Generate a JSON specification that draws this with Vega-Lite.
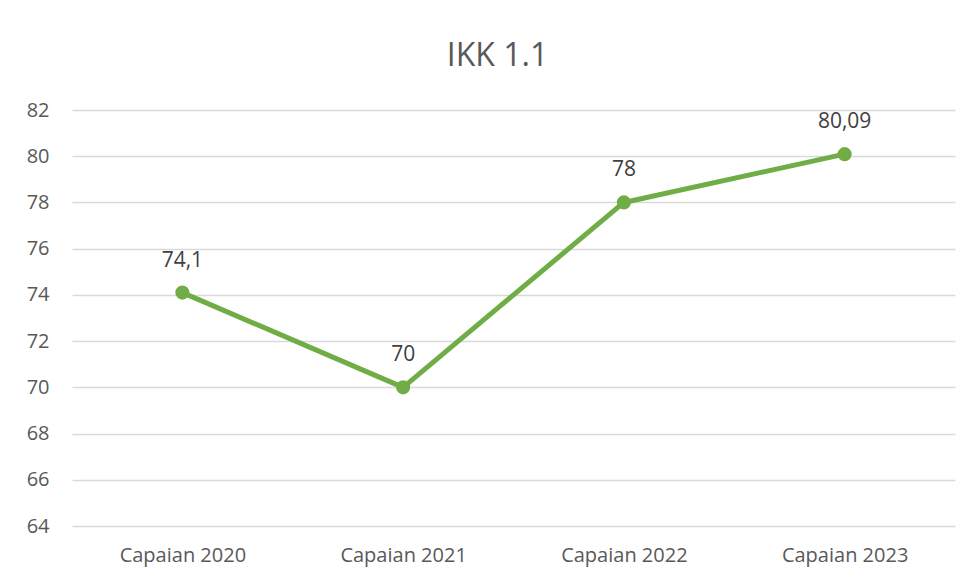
{
  "$schema": "https://vega.github.io/schema/vega-lite/v6.json",
  "width": 883,
  "height": 416,
  "autosize": {"type": "none"},
  "padding": {"left": 72, "top": 110, "right": 18, "bottom": 55},
  "background": "white",
  "title": {
    "text": "IKK 1.1",
    "fontSize": 32,
    "font": "Open Sans",
    "fontWeight": "normal",
    "color": "#595959",
    "anchor": "middle",
    "dx": -16,
    "offset": 27
  },
  "data": {
    "values": [
      {"kategori": "Capaian 2020", "nilai": 74.1, "label": "74,1"},
      {"kategori": "Capaian 2021", "nilai": 70, "label": "70"},
      {"kategori": "Capaian 2022", "nilai": 78, "label": "78"},
      {"kategori": "Capaian 2023", "nilai": 80.09, "label": "80,09"}
    ]
  },
  "encoding": {
    "x": {
      "field": "kategori",
      "type": "nominal",
      "sort": null,
      "scale": {"paddingOuter": 0.5, "paddingInner": 0},
      "axis": {
        "title": null,
        "labelAngle": 0,
        "labelFont": "Open Sans",
        "labelFontSize": 20,
        "labelColor": "#595959",
        "labelPadding": 19,
        "ticks": false,
        "domain": false,
        "grid": false
      }
    },
    "y": {
      "field": "nilai",
      "type": "quantitative",
      "scale": {"domain": [64, 82], "nice": false, "zero": false},
      "axis": {
        "title": null,
        "values": [64, 66, 68, 70, 72, 74, 76, 78, 80, 82],
        "labelFont": "Open Sans",
        "labelFontSize": 20,
        "labelColor": "#595959",
        "labelPadding": 23,
        "ticks": false,
        "domain": false,
        "grid": true,
        "gridColor": "#d9d9d9",
        "gridWidth": 1.3
      }
    }
  },
  "layer": [
    {
      "mark": {"type": "line", "color": "#70ad47", "strokeWidth": 5, "strokeCap": "round", "strokeJoin": "round"}
    },
    {
      "mark": {"type": "point", "filled": true, "color": "#70ad47", "size": 200, "opacity": 1}
    },
    {
      "mark": {"type": "text", "dy": -32, "font": "Open Sans", "fontSize": 21, "color": "#404040"},
      "encoding": {"text": {"field": "label"}}
    }
  ],
  "config": {"view": {"stroke": null}}
}
